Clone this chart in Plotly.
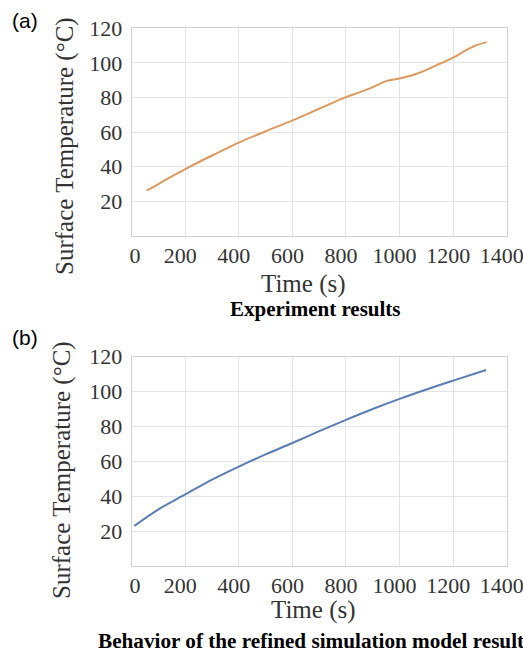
import plotly.graph_objects as go

# (a) measured surface temperature
exp_time = [56, 100, 150, 200, 300, 400, 500, 600, 700, 800, 850, 900, 950,
            1000, 1050, 1100, 1150, 1200, 1250, 1280, 1325]
exp_temp = [26.3, 30.0, 34.5, 38.7, 46.5, 54.0, 60.5, 66.8, 73.5, 80.2, 83.0,
            86.0, 89.5, 91.0, 93.0, 96.0, 99.5, 103.0, 107.5, 109.8, 112.0]

# (b) refined simulation model
sim_time = [10, 100, 200, 300, 400, 500, 600, 700, 800, 900, 1000, 1100, 1200, 1323]
sim_temp = [23.0, 32.5, 41.0, 49.5, 57.0, 64.0, 70.5, 77.3, 83.8, 90.0, 95.8,
            101.2, 106.3, 112.4]

x_ticks = [0, 200, 400, 600, 800, 1000, 1200, 1400]
# the leading no-break spaces nudge "0" off the corner, as in the printed figure
x_labels = ["\u00a0\u00a0\u00a00", "200", "400", "600", "800", "1000", "1200", "1400"]
y_ticks = [20, 40, 60, 80, 100, 120]

W, H = 523, 652
SERIF = "Liberation Serif"
SANS = "Liberation Sans"


def py(pix):
    """Convert a pixel row (from the top) into paper y."""
    return 1 - pix / H


def px(pix):
    return pix / W


fig = go.Figure()
fig.add_trace(go.Scatter(x=exp_time, y=exp_temp, mode="lines", line_shape="spline",
                         line=dict(color="#DE9A5E", width=2), xaxis="x", yaxis="y"))
fig.add_trace(go.Scatter(x=sim_time, y=sim_temp, mode="lines", line_shape="spline",
                         line=dict(color="#5B7DB6", width=2), xaxis="x2", yaxis="y2"))

x_dom = [px(131.7), px(506.7)]
axis_common = dict(showgrid=True, gridcolor="#e4e4e4", gridwidth=1,
                   showline=True, linecolor="#d2d2d2", linewidth=1, mirror=True,
                   zeroline=False, ticks="", ticklen=0, automargin=False,
                   tickfont=dict(family=SERIF, size=22, color="#333333"))
x_extra = dict(ticklabelshift=-5, ticklabeloverflow="allow", ticklabelstandoff=0,
               ticktext=x_labels)
y_extra = dict(ticklabelstandoff=4)

fig.update_layout(
    width=W, height=H,
    margin=dict(l=0, r=0, t=0, b=0),
    paper_bgcolor="white", plot_bgcolor="white",
    showlegend=False,
    xaxis=dict(domain=x_dom, range=[0, 1400], tickvals=x_ticks, anchor="y",
               **axis_common, **x_extra),
    yaxis=dict(domain=[py(236), py(28.3)], range=[0, 120], tickvals=y_ticks,
               anchor="x", **axis_common, **y_extra),
    xaxis2=dict(domain=x_dom, range=[0, 1400], tickvals=x_ticks, anchor="y2",
                **axis_common, **x_extra),
    yaxis2=dict(domain=[py(566), py(356.7)], range=[0, 120], tickvals=y_ticks,
                anchor="x2", **axis_common, **y_extra),
)

title_font = dict(family=SERIF, size=25, color="#333333")
annotations = [
    # panel letters
    dict(x=px(10), y=py(20), text="(a)", xanchor="left", yanchor="middle",
         font=dict(family=SANS, size=21, color="black")),
    dict(x=px(10), y=py(337), text="(b)", xanchor="left", yanchor="middle",
         font=dict(family=SANS, size=21, color="black")),
    # axis titles
    dict(x=px(65), y=py(146), text="Surface Temperature (°C)", textangle=-90,
         xanchor="center", yanchor="middle", font=title_font),
    dict(x=px(303), y=py(284), text="Time (s)", xanchor="center", yanchor="middle",
         font=title_font),
    dict(x=px(62), y=py(470), text="Surface Temperature (°C)", textangle=-90,
         xanchor="center", yanchor="middle", font=title_font),
    dict(x=px(313), y=py(610), text="Time (s)", xanchor="center", yanchor="middle",
         font=title_font),
    # captions
    dict(x=px(315), y=py(309), text="<b>Experiment results</b>", xanchor="center",
         yanchor="middle", font=dict(family=SERIF, size=21, color="black")),
    dict(x=px(96), y=py(641), text="<b>Behavior of the refined simulation model results</b>",
         xanchor="left", yanchor="middle", font=dict(family=SERIF, size=21.2, color="black")),
]
for a in annotations:
    a.update(xref="paper", yref="paper", showarrow=False)
fig.update_layout(annotations=annotations)

fig.write_html("out.html")
